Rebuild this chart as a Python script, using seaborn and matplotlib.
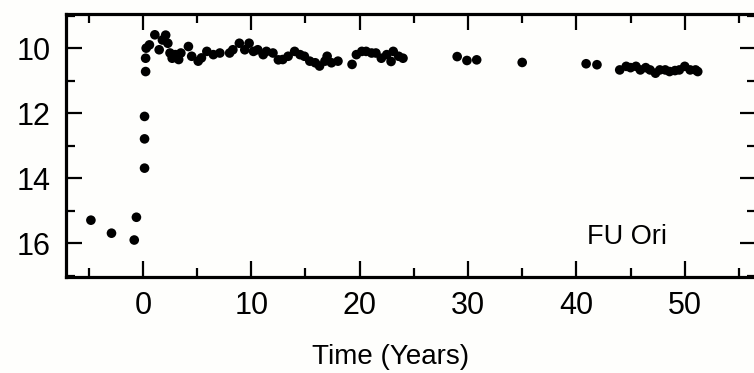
import matplotlib
matplotlib.use("Agg")
import matplotlib.pyplot as plt
from matplotlib.ticker import MultipleLocator
import seaborn as sns
import pandas as pd

# Light curve of FU Ori (time in years relative to outburst, magnitude)
time_years = [
    -4.8, -2.9, -0.8, -0.6,
    0.15, 0.15, 0.15, 0.25, 0.25,
    0.3, 0.6, 1.1, 1.5, 1.8, 2.1, 2.3, 2.5, 2.7, 3.0, 3.3, 3.5,
    4.2, 4.5, 5.1, 5.4, 5.9, 6.5, 7.1, 8.0, 8.3, 8.9, 9.4, 9.8, 10.2,
    10.6, 11.1, 11.4, 12.0, 12.5, 12.9, 13.4, 14.0, 14.5, 14.9, 15.4,
    15.9, 16.3, 16.8, 17.0, 17.4, 18.0, 19.3, 19.7, 20.2, 20.6, 21.1,
    21.5, 22.0, 22.5, 22.9, 23.1, 23.6, 24.0,
    29.0, 29.9, 30.8, 35.0, 40.9, 41.9,
    44.0, 44.6, 45.0, 45.5, 45.9, 46.4, 46.8, 47.3, 47.7, 48.2, 48.6,
    49.1, 49.5, 50.0, 50.5, 51.0, 51.2,
]
magnitude = [
    15.29, 15.69, 15.90, 15.20,
    13.69, 12.79, 12.10, 10.72, 10.31,
    10.00, 9.90, 9.59, 10.05, 9.75, 9.60, 9.85, 10.15, 10.31, 10.20, 10.35, 10.15,
    9.95, 10.25, 10.40, 10.30, 10.10, 10.20, 10.15, 10.15, 10.05, 9.85, 10.05, 9.85, 10.10,
    10.05, 10.20, 10.10, 10.15, 10.36, 10.35, 10.25, 10.10, 10.20, 10.25, 10.40,
    10.45, 10.55, 10.40, 10.25, 10.45, 10.40, 10.50, 10.20, 10.10, 10.10, 10.15,
    10.15, 10.31, 10.20, 10.41, 10.10, 10.25, 10.31,
    10.26, 10.38, 10.36, 10.44, 10.48, 10.51,
    10.67, 10.56, 10.60, 10.56, 10.67, 10.60, 10.67, 10.77, 10.67, 10.67, 10.72,
    10.69, 10.67, 10.56, 10.67, 10.67, 10.72,
]
x_ticks = [0, 10, 20, 30, 40, 50]
y_ticks = [10, 12, 14, 16]
x_label = "Time (Years)"
star_name = "FU Ori"

df = pd.DataFrame({"t": time_years, "m": magnitude})

sns.set_style("ticks")
plt.rcParams["font.family"] = ["Liberation Sans", "DejaVu Sans"]
plt.rcParams["text.color"] = "black"
plt.rcParams["axes.labelcolor"] = "black"
plt.rcParams["xtick.color"] = "black"
plt.rcParams["ytick.color"] = "black"

fig = plt.figure(figsize=(7.54, 3.73), dpi=100)
fig.patch.set_facecolor("#fefefc")
ax = fig.add_axes([0.0875, 0.258, 1.003 - 0.0875, 0.9625 - 0.258])
ax.set_facecolor("#fefefc")

sns.scatterplot(data=df, x="t", y="m", ax=ax, color="black", s=48,
                edgecolor="none", linewidth=0, legend=False)

ax.set_xlim(-7.1, 56.6)
ax.set_ylim(17.03, 8.95)
ax.set_xticks(x_ticks)
ax.set_yticks(y_ticks)
ax.xaxis.set_minor_locator(MultipleLocator(5))
ax.yaxis.set_minor_locator(MultipleLocator(1))

ax.tick_params(which="both", direction="in", top=True, right=True,
               width=1.6, color="black", labelcolor="black")
ax.tick_params(which="major", length=11.5, labelsize=22)
ax.tick_params(which="minor", length=6.5)
ax.tick_params(axis="y", which="major", pad=11)
ax.tick_params(axis="x", which="major", pad=10)

for sp in ax.spines.values():
    sp.set_linewidth(2.3)
    sp.set_color("black")

ax.set_xlabel(x_label, fontsize=20, labelpad=17, color="black", x=0.47)
ax.set_ylabel("")

ax.text(41.0, 16.02, star_name, fontsize=19.5, ha="left", va="baseline",
        color="black")

fig.savefig("out.png", dpi=100, facecolor=fig.get_facecolor())
